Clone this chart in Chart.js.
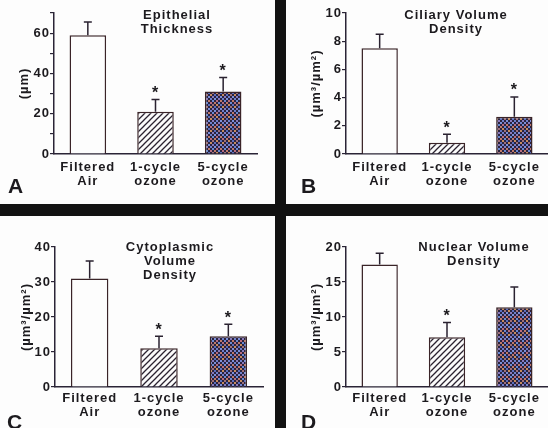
<!DOCTYPE html>
<html>
<head>
<meta charset="utf-8">
<script src="https://cdn.jsdelivr.net/npm/chart.js@4"></script>
<style>
  body { margin: 0; background: #fff; }
  #wrap { position: relative; width: 548px; height: 428px; background: #fdfdfd; overflow: hidden; }
  canvas { position: absolute; }
  .sep { position: absolute; background: #121212; }
  .title, .letter { position: absolute; font-family: 'Liberation Sans', Arial, sans-serif; font-weight: bold; color: #1c1a1e; }
  .title { width: 140px; text-align: center; font-size: 13px; line-height: 14px; letter-spacing: 1px; }
  .letter { font-size: 21px; line-height: 21px; }
</style>
</head>
<body>
<div id="wrap">
  <canvas id="chartA" width="275" height="204" style="left:0;top:0"></canvas>
  <canvas id="chartB" width="262" height="204" style="left:286px;top:0"></canvas>
  <canvas id="chartC" width="275" height="212" style="left:0;top:216px"></canvas>
  <canvas id="chartD" width="262" height="212" style="left:286px;top:216px"></canvas>

  <div class="sep" style="left:275px;top:0;width:11px;height:428px"></div>
  <div class="sep" style="left:0;top:204px;width:548px;height:12px"></div>

  <div class="title" style="left:107px;top:8px">Epithelial<br>Thickness</div>
  <div class="title" style="left:386px;top:8px">Ciliary Volume<br>Density</div>
  <div class="title" style="left:100px;top:240px">Cytoplasmic<br>Volume<br>Density</div>
  <div class="title" style="left:404px;top:240px">Nuclear Volume<br>Density</div>

  <div class="letter" style="left:8px;top:175px">A</div>
  <div class="letter" style="left:301px;top:175px">B</div>
  <div class="letter" style="left:7px;top:411px">C</div>
  <div class="letter" style="left:301px;top:411px">D</div>
</div>

<script>
// categories shared by all four panels
var categories = [['Filtered', 'Air'], ['1-cycle', 'ozone'], ['5-cycle', 'ozone']];

// A - epithelial thickness (um)
var thicknessMeans = [59, 21, 31];
var thicknessErrors = [6.5, 6, 7];
var thicknessStars = [false, true, true];
var thicknessTicks = [0, 20, 40, 60];

// B - ciliary volume density
var ciliaryMeans = [7.5, 0.8, 2.65];
var ciliaryErrors = [1.0, 0.6, 1.4];
var ciliaryStars = [false, true, true];
var ciliaryTicks = [0, 2, 4, 6, 8, 10];

// C - cytoplasmic volume density
var cytoMeans = [31, 11.1, 14.5];
var cytoErrors = [5, 3.4, 3.4];
var cytoStars = [false, true, true];
var cytoTicks = [0, 10, 20, 30, 40];

// D - nuclear volume density
var nuclearMeans = [17.5, 7.1, 11.4];
var nuclearErrors = [1.6, 2.1, 2.9];
var nuclearStars = [false, true, false];
var nuclearTicks = [0, 5, 10, 15, 20];

var ink = '#1c1a1e';
var font = "'Liberation Sans', Arial, sans-serif";

// diagonal hatch for 1-cycle bars
function hatchPattern() {
    var c = document.createElement('canvas');
    c.width = 6; c.height = 6;
    var g = c.getContext('2d');
    g.fillStyle = '#fbfbfb';
    g.fillRect(0, 0, 6, 6);
    g.strokeStyle = '#2a2230';
    g.lineWidth = 1.3;
    g.beginPath();
    g.moveTo(-1, 7); g.lineTo(7, -1);
    g.moveTo(-1, 1); g.lineTo(1, -1);
    g.moveTo(5, 7); g.lineTo(7, 5);
    g.stroke();
    return g.createPattern(c, 'repeat');
}

// dark colour checker for 5-cycle bars
function checkPattern() {
    var cols = ['#6f80cc', '#b86c80', '#c88c5c', '#8a7abc', '#6a8ad4', '#a0707a', '#7c90da', '#c07a6a', '#5c70c0'];
    var c = document.createElement('canvas');
    c.width = 12; c.height = 12;
    var g = c.getContext('2d');
    g.fillStyle = '#29233f';
    g.fillRect(0, 0, 12, 12);
    var k = 0;
    for (var i = 0; i < 6; i++) {
        for (var j = 0; j < 6; j++) {
            if ((i + j) % 2 === 0) {
                g.fillStyle = cols[k % cols.length];
                g.fillRect(i * 2, j * 2, 2, 2);
                k++;
            }
        }
    }
    return g.createPattern(c, 'repeat');
}

var fills = ['#fdfdfd', hatchPattern(), checkPattern()];

// error bars (upward only) and significance stars
var errorBars = {
    id: 'errorBars',
    beforeDraw: function(chart) {
        chart.ctx.letterSpacing = '1px';
    },
    afterDatasetsDraw: function(chart) {
        var ctx = chart.ctx;
        var y = chart.scales.y;
        var ds = chart.data.datasets[0];
        chart.getDatasetMeta(0).data.forEach(function(bar, i) {
            var top = y.getPixelForValue(ds.data[i] + ds.errors[i]);
            ctx.save();
            ctx.strokeStyle = '#2a2230';
            ctx.lineWidth = 1.5;
            ctx.beginPath();
            ctx.moveTo(bar.x, bar.y);
            ctx.lineTo(bar.x, top);
            ctx.moveTo(bar.x - 4, top);
            ctx.lineTo(bar.x + 4, top);
            ctx.stroke();
            if (ds.stars[i]) {
                ctx.fillStyle = ink;
                ctx.font = 'bold 16px ' + font;
                ctx.textAlign = 'center';
                ctx.textBaseline = 'alphabetic';
                ctx.fillText('*', bar.x, top - 1.5);
            }
            ctx.restore();
        });
    }
};

function drawPanel(id, means, errors, stars, ticks, yMax, yStep, yTitle, area) {
    new Chart(document.getElementById(id), {
        type: 'bar',
        data: {
            labels: categories,
            datasets: [{
                data: means,
                errors: errors,
                stars: stars,
                backgroundColor: fills,
                borderColor: '#3a2428',
                borderWidth: 1.5,
                categoryPercentage: 1,
                barPercentage: 0.54
            }]
        },
        options: {
            responsive: false,
            animation: false,
            layout: { padding: { left: 0, top: area.top, right: area.right, bottom: 0 } },
            plugins: { legend: { display: false }, tooltip: { enabled: false } },
            scales: {
                x: {
                    grid: { display: false, drawTicks: false },
                    border: { color: '#2a2436', width: 1.5 },
                    ticks: {
                        color: ink,
                        padding: area.labelPad,
                        maxRotation: 0,
                        font: { family: font, size: 13, weight: 'bold', lineHeight: 1.08 }
                    },
                    afterFit: function(s) { s.height = area.xHeight; }
                },
                y: {
                    min: 0,
                    max: yMax,
                    grid: { drawOnChartArea: false, tickLength: 4, color: '#2a2436', lineWidth: 1.2 },
                    border: { color: '#2a2436', width: 1.5 },
                    ticks: {
                        stepSize: yStep,
                        padding: 0,
                        color: ink,
                        font: { family: font, size: 13, weight: 'bold' },
                        callback: function(v) { return ticks.indexOf(v) >= 0 ? v : ''; }
                    },
                    title: {
                        display: true,
                        text: yTitle,
                        color: ink,
                        padding: { top: area.titlePad, bottom: 0 },
                        font: { family: font, size: 13, weight: 'bold' }
                    },
                    afterFit: function(s) { s.width = area.yWidth; }
                }
            }
        },
        plugins: [errorBars]
    });
}

drawPanel('chartA', thicknessMeans, thicknessErrors, thicknessStars, thicknessTicks, 70, 10, '(µm)',
    { top: 13, right: 18, yWidth: 54, xHeight: 50, labelPad: 6, titlePad: 17 });
drawPanel('chartB', ciliaryMeans, ciliaryErrors, ciliaryStars, ciliaryTicks, 10, 2, '(µm³/µm²)',
    { top: 13, right: 0, yWidth: 60, xHeight: 50, labelPad: 6, titlePad: 23 });
drawPanel('chartC', cytoMeans, cytoErrors, cytoStars, cytoTicks, 40, 10, '(µm³/µm²)',
    { top: 31, right: 12, yWidth: 55, xHeight: 41, labelPad: 4, titlePad: 19 });
drawPanel('chartD', nuclearMeans, nuclearErrors, nuclearStars, nuclearTicks, 20, 5, '(µm³/µm²)',
    { top: 31, right: 0, yWidth: 60, xHeight: 41, labelPad: 4, titlePad: 23 });
</script>
</body>
</html>
